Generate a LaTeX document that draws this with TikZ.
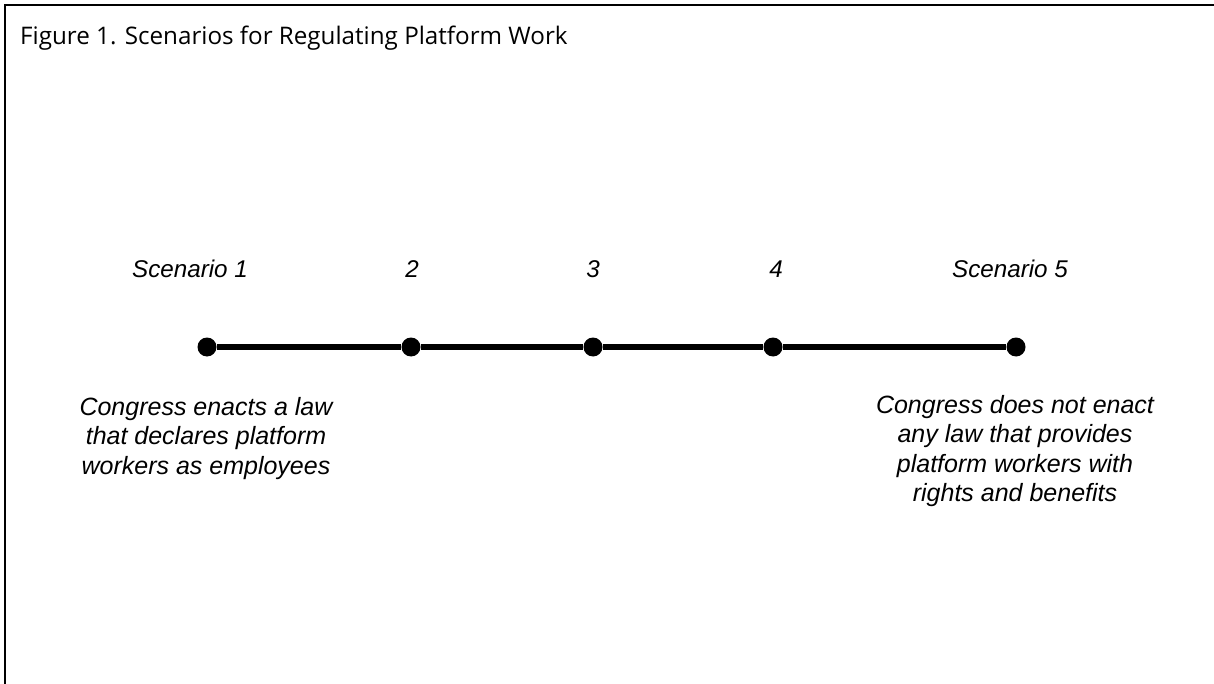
\documentclass[tikz,border=0pt]{standalone}
\usepackage{fontspec}
\setmainfont{Liberation Sans}
\newfontfamily\titlefont{Open Sans}
\begin{document}
\begin{tikzpicture}[x=1pt,y=-1pt,
  dot/.style={circle,fill=black,inner sep=0pt,minimum size=19pt},
  axis/.style={line width=6.5pt},
  lbl/.style={font=\fontsize{24.2}{29}\selectfont\itshape,anchor=base,inner sep=0pt},
  desc/.style={font=\fontsize{25}{29.5}\selectfont\itshape,align=center,anchor=north,inner sep=0pt},
]
\useasboundingbox (0,0) rectangle (1214,684);
% open frame: left and top edges only
\draw[line width=2pt] (5,684) -- (5,5) -- (1214,5);
\node[anchor=base west,inner sep=0pt,font=\titlefont\fontsize{24.2}{29}\selectfont] (title) at (20,45)
  {Figure 1. Scenarios for Regulating Platform Work};
% scale points
\node[dot] (d1) at (207,347) {};
\node[dot] (d2) at (411,347) {};
\node[dot] (d3) at (593,347) {};
\node[dot] (d4) at (773,347) {};
\node[dot] (d5) at (1016,347) {};
\draw[axis] (d1) -- (d2) -- (d3) -- (d4) -- (d5);
% scenario labels
\node[lbl] (s1) at (190,278) {Scenario 1};
\node[lbl] (s2) at (412,278) {2};
\node[lbl] (s3) at (593,278) {3};
\node[lbl] (s4) at (776,278) {4};
\node[lbl] (s5) at (1010,278) {Scenario 5};
% end-point descriptions
\node[desc] (t1) at (206,397) {Congress enacts a law\\that declares platform\\workers as employees};
\node[desc] (t5) at (1015,395) {Congress does not enact\\any law that provides\\platform workers with\\rights and benefits};
\end{tikzpicture}
\end{document}
